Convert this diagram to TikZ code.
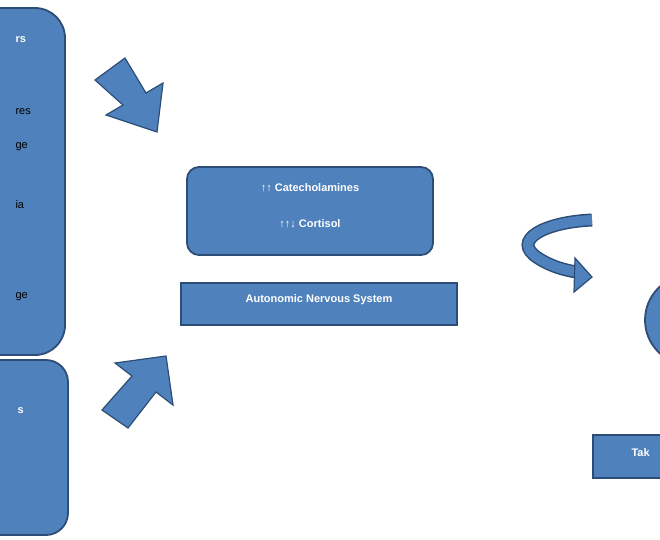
\documentclass[tikz,border=0pt]{standalone}
\usepackage{fontspec}
\setmainfont{Liberation Sans}
\begin{document}
\begin{tikzpicture}[x=1pt,y=-1pt,
  blk/.style={fill=boxblue,draw=edgeblue,line width=1.8pt},
  wt/.style={text=white,font=\fontsize{11}{13}\selectfont\bfseries},
  bk/.style={text=black,font=\fontsize{11}{13}\selectfont,anchor=west}]
\definecolor{boxblue}{RGB}{79,129,189}
\definecolor{edgeblue}{RGB}{44,77,117}
\useasboundingbox (0,0) rectangle (660,539);
\clip (0,0) rectangle (660,539);
% left boxes
\draw[blk,rounded corners=30pt] (-150,8) rectangle (65,355);
\node[wt,anchor=west] (t1) at (12,40) {rs};
\node[bk] (t2) at (12,112) {res};
\node[bk] (t3) at (12,147) {ge};
\node[bk] (t4) at (12,205) {ia};
\node[bk] (t5) at (12,297) {ge};
\draw[blk,rounded corners=22pt] (-150,360) rectangle (68,535);
\node[wt,anchor=west] (t6) at (14,411) {s};
% block arrows
\draw[blk,line width=1.2pt] (95,80) -- (123,105) -- (106,115) -- (157,132) -- (163,83) -- (146,93) -- (125,58) -- cycle;
\draw[blk,line width=1.2pt] (102,410) -- (132,376) -- (115,363) -- (166,356) -- (173,405) -- (156,392) -- (128,428) -- cycle;
% central boxes
\draw[blk,rounded corners=12pt] (187,167) rectangle (433,255);
\node[wt] (c1) at (310,188) {↑↑ Catecholamines};
\node[wt] (c2) at (310,224) {↑↑↓ Cortisol};
\draw[blk] (181,283) rectangle (457,325);
\node[wt] (ans) at (319,300) {Autonomic Nervous System};
% curved arrow
\draw[edgeblue,line width=13pt] (592,220) .. controls (545,222) and (510,240) .. (538,258) .. controls (552,267) and (565,270) .. (576,272);
\draw[boxblue,line width=10pt] (592,220) .. controls (545,222) and (510,240) .. (538,258) .. controls (552,267) and (565,270) .. (577,272);
\draw[blk,line width=1.2pt] (575,258) -- (592,277) -- (574,292) -- cycle;
% right partial shapes
\draw[blk] (690,320) ellipse (45 and 45);
\draw[blk] (593,435) rectangle (700,478);
\node[wt,anchor=west] (tak) at (628,453) {Tak};
\end{tikzpicture}
\end{document}
